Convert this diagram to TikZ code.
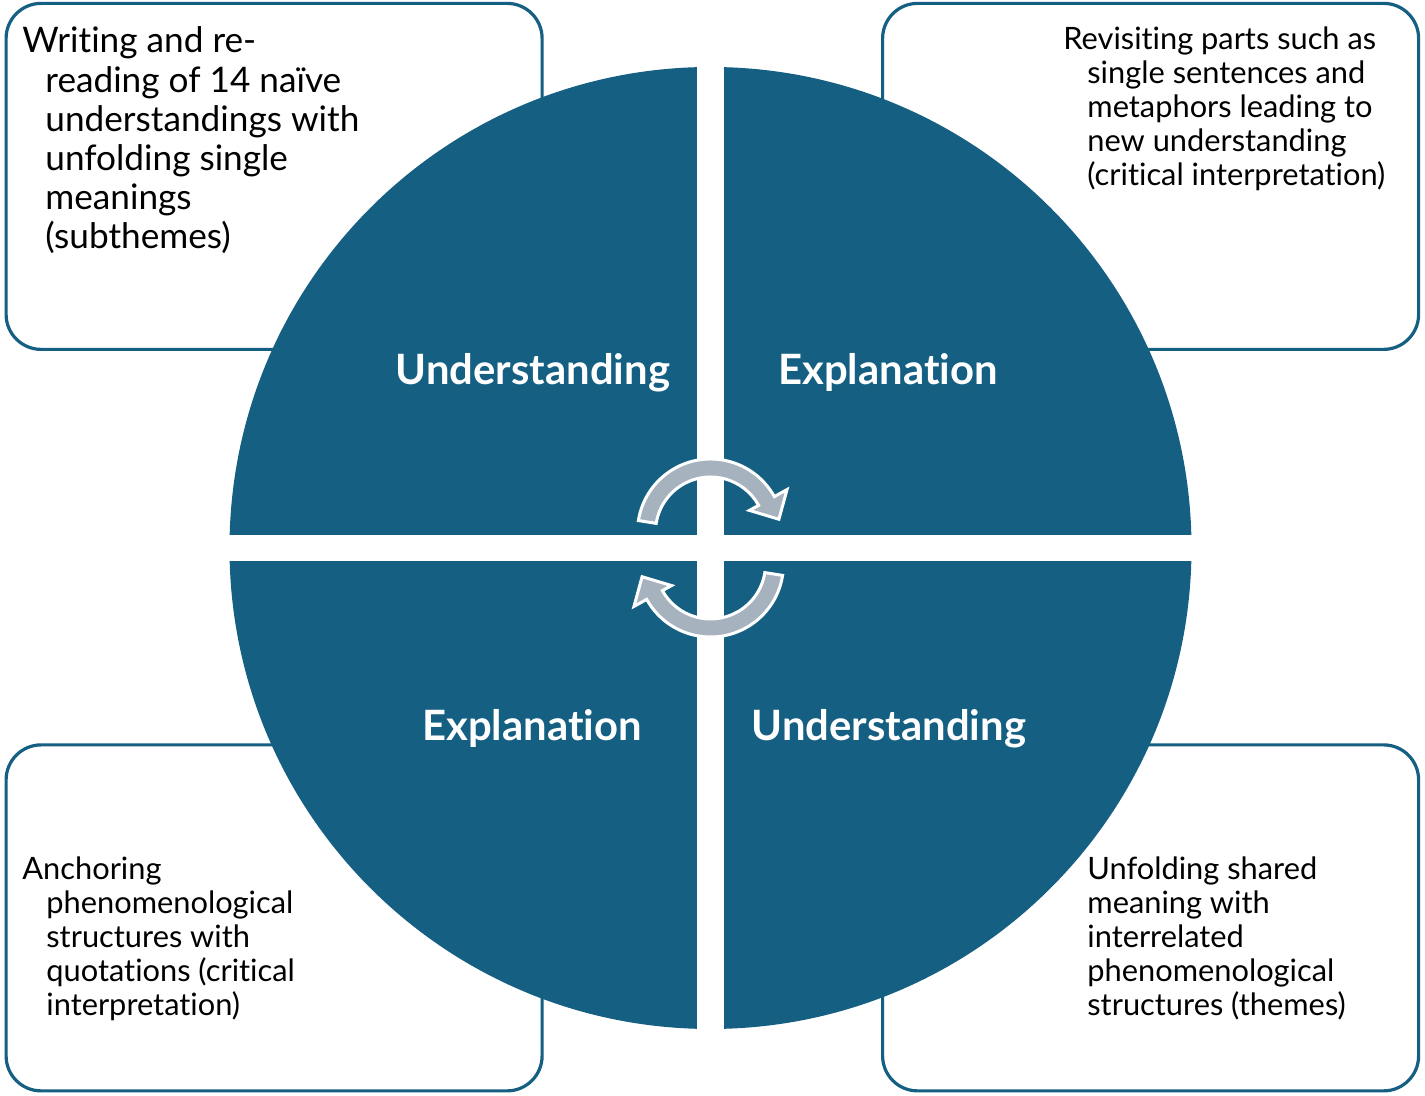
\documentclass[tikz,border=0pt]{standalone}
\usepackage{fontspec}
\setmainfont{Lato}[Ligatures=NoCommon]
\definecolor{dblue}{HTML}{156082}
\definecolor{agrey}{HTML}{A7B2BF}
\begin{document}
\begin{tikzpicture}[x=0.5pt,y=0.5pt,
  box/.style={draw=dblue, line width=1.6pt, rounded corners=17.5pt, fill=white,
    minimum width=268pt, minimum height=173pt, inner sep=0pt, anchor=south west},
  desc/.style={anchor=base west, align=left, inner sep=0pt},
  dsmall/.style={desc, font=\fontsize{15.4}{17}\selectfont},
  dbig/.style={desc, font=\fontsize{17.6}{19.6}\selectfont},
  lab/.style={text=white, font=\bfseries\fontsize{20.9}{24}\selectfont, anchor=base, inner sep=0pt},
  cyc/.style={fill=agrey, draw=white, line width=1.5pt, line join=miter}]
\useasboundingbox (0,0) rectangle (1425,1096);
% boxes
\node[box] (tlbox) at (4.5,745) {};
\node[box] (trbox) at (881,745) {};
\node[box] (blbox) at (4.5,3.5) {};
\node[box] (brbox) at (881,3.5) {};
% circle with white cross
\fill[dblue] (710.5,548) circle[radius=481];
\fill[white] (697,60) rectangle (724,1036);
\fill[white] (222,535) rectangle (1199,561);
% cycle arrows
\begin{scope}[shift={(710.5,564)}]
\filldraw[cyc] (171:73) arc[start angle=171, end angle=29, radius=73] -- (29:87.5) -- (68.4,12.75) -- (29:44.5) -- (29:55) arc[start angle=29, end angle=171, radius=55] -- cycle;
\end{scope}
\begin{scope}[shift={(710.5,532)}, rotate=180]
\filldraw[cyc] (171:73) arc[start angle=171, end angle=29, radius=73] -- (29:87.5) -- (68.4,12.75) -- (29:44.5) -- (29:55) arc[start angle=29, end angle=171, radius=55] -- cycle;
\end{scope}
% labels
\node[lab] (u1) at (533,711) {Understanding};
\node[lab] (e1) at (888,711) {Explanation};
\node[lab] (e2) at (532,355) {Explanation};
\node[lab] (u2) at (889,355) {Understanding};
% descriptions (anchored at the baseline of the last line)
\node[dbig] (t1) at (22,847) {Writing and re-\\
\hspace*{11.5pt}reading of 14 naïve\\
\hspace*{11.5pt}understandings with\\
\hspace*{11.5pt}unfolding single\\
\hspace*{11.5pt}meanings\\
\hspace*{11.5pt}(subthemes)};
\node[dsmall] (t2) at (1063,910) {Revisiting parts such as\\
\hspace*{12pt}single sentences and\\
\hspace*{12pt}metaphors leading to\\
\hspace*{12pt}new understanding\\
\hspace*{12pt}(critical interpretation)};
\node[dsmall] (t3) at (22,80) {Anchoring\\
\hspace*{12pt}phenomenological\\
\hspace*{12pt}structures with\\
\hspace*{12pt}quotations (critical\\
\hspace*{12pt}interpretation)};
\node[dsmall] (t4) at (1087,80) {Unfolding shared\\
meaning with\\
interrelated\\
phenomenological\\
structures (themes)};
\end{tikzpicture}
\end{document}
